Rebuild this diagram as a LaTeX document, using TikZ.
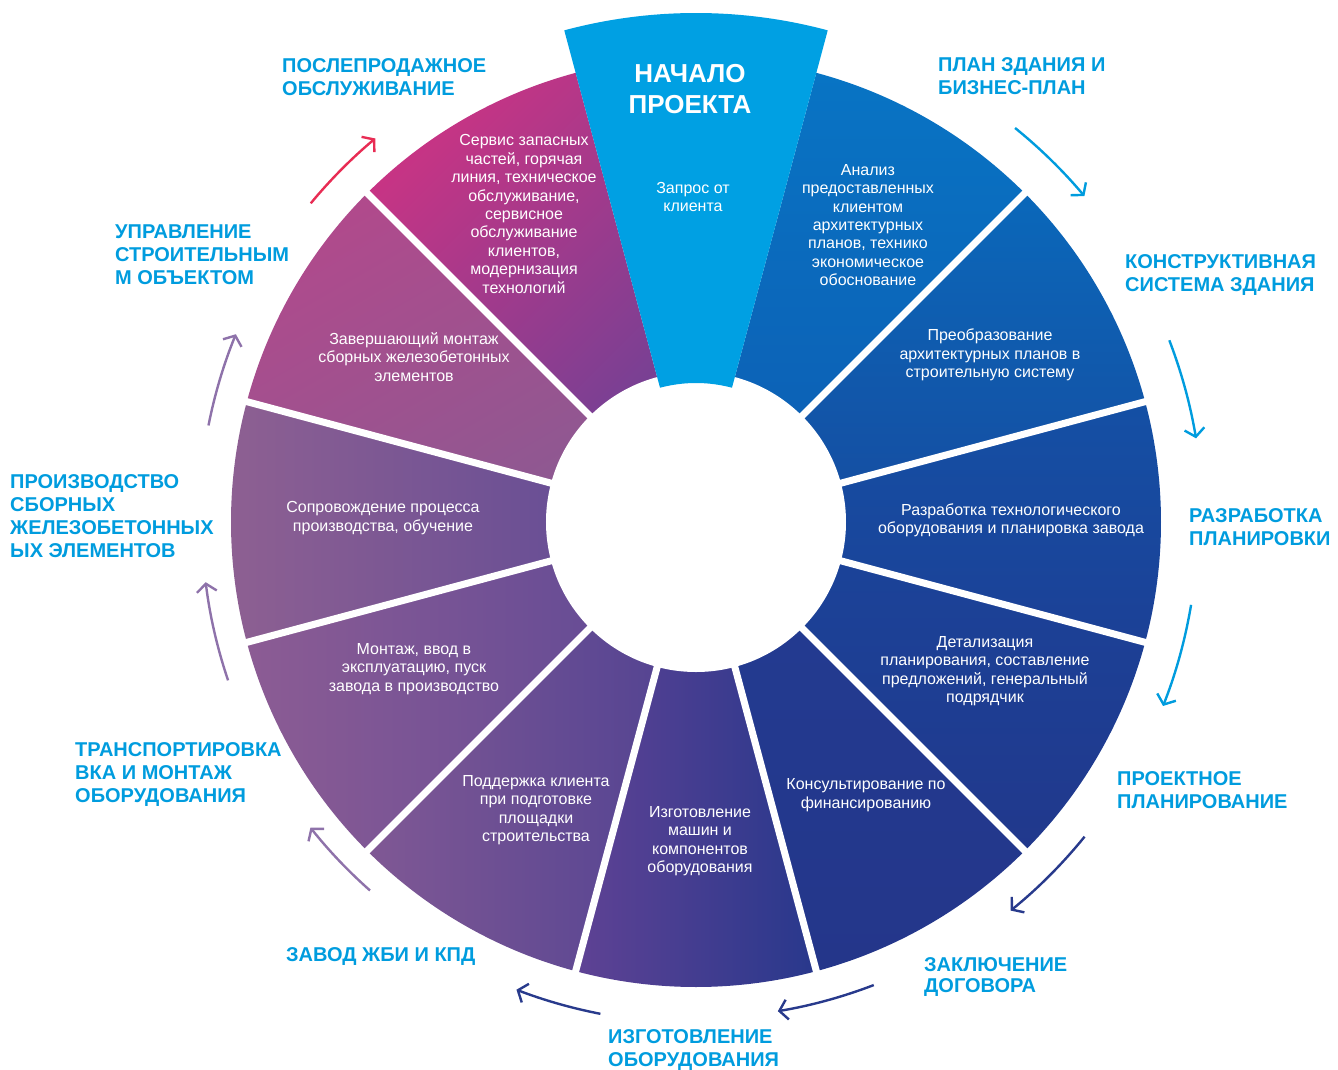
\documentclass[tikz,border=0pt]{standalone}
\usepackage{fontspec}
\setmainfont{Liberation Sans}
\usepackage{tikz}
\usetikzlibrary{arrows.meta}
\definecolor{cyn}{RGB}{0,156,222}
\definecolor{hot}{RGB}{0,160,227}
\definecolor{dk}{RGB}{40,58,140}
\definecolor{lav}{RGB}{142,114,170}
\definecolor{rd}{RGB}{232,44,84}
% segment colours, a = start, b = end of the shading
\definecolor{g1a}{RGB}{8,116,196}   \definecolor{g1b}{RGB}{14,92,178}
\definecolor{g2a}{RGB}{10,104,186}  \definecolor{g2b}{RGB}{22,76,160}
\definecolor{g3a}{RGB}{20,80,165}   \definecolor{g3b}{RGB}{28,64,150}
\definecolor{g4a}{RGB}{26,68,154}   \definecolor{g4b}{RGB}{33,56,140}
\definecolor{g5a}{RGB}{34,60,146}   \definecolor{g5b}{RGB}{36,54,138}
\definecolor{g6a}{RGB}{95,66,148}   \definecolor{g6b}{RGB}{40,56,140}
\definecolor{g7a}{RGB}{128,88,148}  \definecolor{g7b}{RGB}{80,66,146}
\definecolor{g8a}{RGB}{140,92,148}  \definecolor{g8b}{RGB}{92,72,150}
\definecolor{g9a}{RGB}{142,96,146}  \definecolor{g9b}{RGB}{90,72,150}
\definecolor{g10a}{RGB}{176,74,140} \definecolor{g10b}{RGB}{138,90,146}
\definecolor{g11a}{RGB}{200,52,132} \definecolor{g11b}{RGB}{108,66,150}

\begin{document}
\begin{tikzpicture}[x=1pt,y=1pt,
  inn/.style={text=white,align=center,inner sep=0pt,font=\fontsize{16}{18.4}\selectfont},
  lbl/.style={text=cyn,align=left,anchor=base west,inner sep=0pt,font=\bfseries\fontsize{20}{23}\selectfont},
  arr/.style={line width=2.4pt,-{Straight Barb[length=8pt,width=20pt]}}]
  \useasboundingbox (-696,-547) rectangle (642,522);
  % wheel: 11 shaded sectors (shading angle 0 = colour a on top)
  \foreach \a/\ca/\cb/\sa in {60/g1a/g1b/0, 30/g2a/g2b/0, 0/g3a/g3b/0, -30/g4a/g4b/0,
      -60/g5a/g5b/0, -90/g6a/g6b/90, -120/g7a/g7b/90, -150/g8a/g8b/90, 180/g9a/g9b/90,
      150/g10a/g10b/30, 120/g11a/g11b/45} {
    \shade[left color=\ca,right color=\cb,shading angle=\sa] (0,0) -- ({\a-15}:465)
      arc[start angle={\a-15},end angle={\a+15},radius=465] -- cycle;
  }
  \foreach \b in {45,15,-15,-45,-75,-105,-135,-165,165,135}
    \draw[white,line width=7pt] (\b:140) -- (\b:470);
  \fill[white] (0,0) circle[radius=150];
  % start wedge
  \fill[hot] (75:139) -- (75:509) arc[start angle=75,end angle=105,radius=509]
    -- (105:139) arc[start angle=105,end angle=75,radius=139] -- cycle;
  \node[inn,font=\bfseries\fontsize{26}{31}\selectfont] (start) at (-6,433) {НАЧАЛО\\ПРОЕКТА};
  % texts in the sectors
  \node[inn] (zapros) at (-3,325) {Запрос от\\клиента};
  \node[inn] (analiz) at (172,297) {Анализ\\предоставленных\\клиентом\\архитектурных\\планов, технико\\экономическое\\обоснование};
  \node[inn] (preobr) at (294,167) {Преобразование\\архитектурных планов в\\строительную систему};
  \node[inn] (razrab) at (315,2) {Разработка технологического\\оборудования и планировка завода};
  \node[inn] (detal) at (289,-149) {Детализация\\планирования, составление\\предложений, генеральный\\подрядчик};
  \node[inn] (konsult) at (170,-273) {Консультирование по\\финансированию};
  \node[inn] (izgot) at (4,-319) {Изготовление\\машин и\\компонентов\\оборудования};
  \node[inn] (podderzh) at (-160,-288) {Поддержка клиента\\при подготовке\\площадки\\строительства};
  \node[inn] (montazh) at (-282,-147) {Монтаж, ввод в\\эксплуатацию, пуск\\завода в производство};
  \node[inn] (soprov) at (-313,4) {Сопровождение процесса\\производства, обучение};
  \node[inn] (zaversh) at (-282,165) {Завершающий монтаж\\сборных железобетонных\\элементов};
  \node[inn] (servis) at (-172,308) {Сервис запасных\\частей, горячая\\линия, техническое\\обслуживание,\\сервисное\\обслуживание\\клиентов,\\модернизация\\технологий};
  % stage labels (base = last line)
  \node[lbl] (lposle) at (-414,426) {ПОСЛЕПРОДАЖНОЕ\\ОБСЛУЖИВАНИЕ};
  \node[lbl] (lplan) at (242,427) {ПЛАН ЗДАНИЯ И\\БИЗНЕС-ПЛАН};
  \node[lbl] (lkonstr) at (429,231) {КОНСТРУКТИВНАЯ\\СИСТЕМА ЗДАНИЯ};
  \node[lbl] (lrazrab) at (493,-23) {РАЗРАБОТКА\\ПЛАНИРОВКИ};
  \node[lbl] (lproekt) at (421,-286) {ПРОЕКТНОЕ\\ПЛАНИРОВАНИЕ};
  \node[lbl,font=\bfseries\fontsize{20}{21}\selectfont] (lzakl) at (228,-470) {ЗАКЛЮЧЕНИЕ\\ДОГОВОРА};
  \node[lbl] (lizgot) at (-88,-544) {ИЗГОТОВЛЕНИЕ\\ОБОРУДОВАНИЯ};
  \node[lbl] (lzavod) at (-410,-439) {ЗАВОД ЖБИ И КПД};
  \node[lbl] (ltransp) at (-621,-280) {ТРАНСПОРТИРОВКА\\ВКА И МОНТАЖ\\ОБОРУДОВАНИЯ};
  \node[lbl] (lproizv) at (-686,-35) {ПРОИЗВОДСТВО\\СБОРНЫХ\\ЖЕЛЕЗОБЕТОННЫХ\\ЫХ ЭЛЕМЕНТОВ};
  \node[lbl] (lupr) at (-581,238) {УПРАВЛЕНИЕ\\СТРОИТЕЛЬНЫМ\\М ОБЪЕКТОМ};
  % arrows round the wheel
  \foreach \i/\s/\e/\r/\c in {1/51/40/507/cyn, 2/21/9.5/507/cyn, 3/-9.5/-21.5/502/cyn,
      4/-39/-51/500/dk, 5/-69/-80.5/496/dk, 6/-101/-111/501/dk, 7/-131.5/-141.6/492/lav,
      8/-161.3/-173/494/lav, 9/168.8/157.8/497/lav, 10/140.4/129.9/500/rd} {
    \coordinate (p\i) at (\s:\r);
    \draw[arr,\c] (p\i) arc[start angle=\s,end angle=\e,radius=\r];
  }
\end{tikzpicture}
\end{document}
